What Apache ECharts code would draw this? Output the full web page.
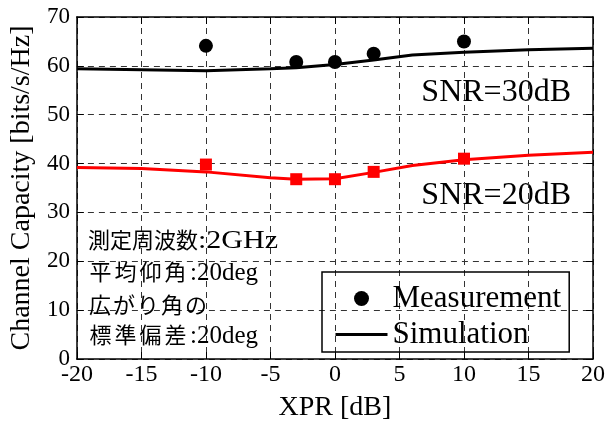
<!DOCTYPE html>
<html><head><meta charset="utf-8">
<script src="https://cdn.jsdelivr.net/npm/echarts@6/dist/echarts.min.js"></script>
<style>html,body{margin:0;padding:0;background:#fff}#c{width:608px;height:427px}</style>
</head><body><div id="c"></div>
<script>
// Data
var xMeas = [-10, -3, 0, 3, 10];
var meas30 = [64.1, 60.8, 60.8, 62.5, 65.0];
var meas20 = [39.8, 36.8, 36.8, 38.3, 41.0];
var xSim = [-20, -15, -10, -5, -3, 0, 3, 6, 10, 15, 20];
var sim30 = [59.4, 59.2, 59.0, 59.4, 59.6, 60.3, 61.2, 62.2, 62.8, 63.3, 63.6];
var sim20 = [39.2, 39.0, 38.3, 37.1, 36.8, 36.9, 38.2, 39.6, 40.8, 41.7, 42.3];
var xTicks = [-20, -15, -10, -5, 0, 5, 10, 15, 20];
var yTicks = [0, 10, 20, 30, 40, 50, 60, 70];
var noteJp = ['測定周波数', '平均仰角', '広がり角の', '標準偏差'];
var noteEn = [':2GHz', ':20deg', '', ':20deg'];

function pairs(xs, ys) { return xs.map(function (x, i) { return [x, ys[i]]; }); }

var SERIF = '"Liberation Serif", "Times New Roman", serif';
var CJK = '"Noto Sans CJK JP", sans-serif';
var gridLine = { show: true, lineStyle: { color: '#333', type: [6, 5], width: 1 } };

// note layout: [centerY, per-char extra spacing, latin x, latin scaleX]
var noteLayout = [[240, 0, 198, 1.2], [272, 3, 190, 1.0], [305, 2, 0, 1], [335, 3, 190, 1.0]];

var noteEls = [];
noteJp.forEach(function (jp, i) {
  var L = noteLayout[i];
  var pad = L[1] / 2;
  var txt = jp.split('').map(function (ch) { return '{c|' + ch + '}'; }).join('');
  noteEls.push({
    type: 'text', x: 88, y: L[0], z: 10,
    style: {
      text: txt, verticalAlign: 'middle',
      rich: { c: { fontFamily: CJK, fontSize: 22, fill: '#000', padding: [0, pad, 0, pad] } }
    }
  });
  if (noteEn[i]) {
    noteEls.push({
      type: 'text', x: L[2], y: L[0] + 1, scaleX: L[3], z: 10,
      style: { text: noteEn[i], fontFamily: SERIF, fontSize: 25, fill: '#000', verticalAlign: 'middle' }
    });
  }
});

var chart = echarts.init(document.getElementById('c'), null, { renderer: 'canvas' });
chart.setOption({
  animation: false,
  backgroundColor: '#fff',
  grid: { left: 75, right: 15, top: 17, bottom: 60 },
  xAxis: [{
    type: 'value', min: xTicks[0], max: xTicks[xTicks.length - 1], interval: 5,
    name: 'XPR [dB]', nameLocation: 'middle', nameGap: 35,
    nameTextStyle: { fontFamily: SERIF, fontSize: 28, color: '#000' },
    axisLine: { show: true, onZero: false, lineStyle: { color: '#000', width: 1.5 } },
    axisTick: { show: true, inside: true, length: 7, lineStyle: { color: '#000' } },
    axisLabel: { fontFamily: SERIF, fontSize: 24, color: '#000', margin: 4 },
    splitLine: gridLine
  }, {
    type: 'value', position: 'top', min: xTicks[0], max: xTicks[xTicks.length - 1], interval: 5,
    axisLine: { show: true, onZero: false, lineStyle: { color: '#000', width: 1.5 } },
    axisTick: { show: true, inside: true, length: 7, lineStyle: { color: '#000' } },
    axisLabel: { show: false }, splitLine: { show: false }
  }],
  yAxis: [{
    type: 'value', min: yTicks[0], max: yTicks[yTicks.length - 1], interval: 10,
    name: 'Channel Capacity [bits/s/Hz]', nameLocation: 'middle', nameGap: 35,
    nameTextStyle: { fontFamily: SERIF, fontSize: 28, color: '#000' },
    axisLine: { show: true, onZero: false, lineStyle: { color: '#000', width: 1.5 } },
    axisTick: { show: true, inside: true, length: 7, lineStyle: { color: '#000' } },
    axisLabel: { fontFamily: SERIF, fontSize: 23, color: '#000', margin: 7 },
    splitLine: gridLine
  }, {
    type: 'value', position: 'right', min: yTicks[0], max: yTicks[yTicks.length - 1], interval: 10,
    axisLine: { show: true, onZero: false, lineStyle: { color: '#000', width: 1.5 } },
    axisTick: { show: true, inside: true, length: 7, lineStyle: { color: '#000' } },
    axisLabel: { show: false }, splitLine: { show: false }
  }],
  legend: {
    orient: 'vertical', left: 322, top: 272,
    data: [{ name: 'Measurement' }, { name: 'Simulation', itemStyle: { opacity: 0 }, lineStyle: { width: 3 } }],
    borderColor: '#000', borderWidth: 1.5, borderRadius: 0,
    padding: [11, 8, 2, 12], itemGap: 5, itemWidth: 52, itemHeight: 15,
    textStyle: { fontFamily: SERIF, fontSize: 31, color: '#000' }
  },
  series: [
    { name: 'Simulation', type: 'line', data: pairs(xSim, sim30), symbol: 'none',
      lineStyle: { color: '#000', width: 3 }, itemStyle: { color: '#000' }, z: 3 },
    { name: 'Measurement', type: 'scatter', data: pairs(xMeas, meas30), symbol: 'circle', symbolSize: 14,
      itemStyle: { color: '#000', opacity: 1 }, z: 4 },
    { name: 'Sim20', type: 'line', data: pairs(xSim, sim20), symbol: 'none',
      lineStyle: { color: '#ff0000', width: 3 }, itemStyle: { color: '#ff0000' }, z: 3 },
    { name: 'Meas20', type: 'scatter', data: pairs(xMeas, meas20), symbol: 'rect', symbolSize: 12,
      itemStyle: { color: '#ff0000', opacity: 1 }, z: 4 }
  ],
  graphic: [
    { type: 'text', right: 37, top: 77, style: { text: 'SNR=30dB', fontFamily: SERIF, fontSize: 32, fill: '#000' } },
    { type: 'text', right: 37, top: 180, style: { text: 'SNR=20dB', fontFamily: SERIF, fontSize: 32, fill: '#000' } }
  ].concat(noteEls)
});
</script></body></html>
